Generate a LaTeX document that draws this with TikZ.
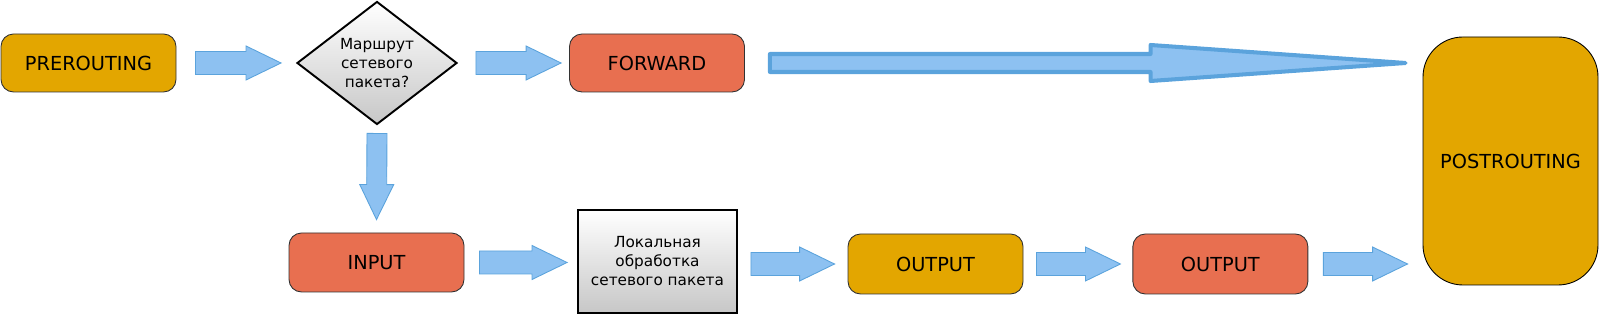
\documentclass[tikz,border=0pt]{standalone}
\usepackage{fontspec}
\setmainfont{DejaVu Sans}
\usetikzlibrary{shapes.geometric, positioning, calc}
\definecolor{hookorange}{RGB}{227, 166, 0}
\definecolor{hookred}{RGB}{232, 111, 80}
\definecolor{flowfill}{RGB}{141, 193, 241}
\definecolor{flowline}{RGB}{91, 163, 220}

% block arrow: [style]{from}{to}{half shaft}{half head}{head length}
\newcommand{\flowarrow}[6][flow]{%
  \coordinate (fa-s) at #2;
  \coordinate (fa-e) at #3;
  \coordinate (fa-h) at ($(fa-e)!#6!(fa-s)$);
  \path[#1] ($(fa-s)!#4!90:(fa-e)$) -- ($(fa-h)!#4!-90:(fa-s)$)
    -- ($(fa-h)!#5!-90:(fa-s)$) -- (fa-e) -- ($(fa-h)!#5!90:(fa-s)$)
    -- ($(fa-h)!#4!90:(fa-s)$) -- ($(fa-s)!#4!-90:(fa-e)$) -- cycle;}

\begin{document}
\begin{tikzpicture}[
    hook/.style={draw=black!80, line width=0.5pt, rounded corners=0.25cm,
                 minimum width=3.5cm, minimum height=1.16cm,
                 font=\fontsize{11}{13}\selectfont},
    orangehook/.style={hook, fill=hookorange},
    redhook/.style={hook, fill=hookred},
    decision/.style={diamond, draw=black, line width=1.1pt, aspect=1.3,
                     inner sep=0pt, minimum width=3.2cm, minimum height=2.46cm,
                     top color=white, bottom color=black!22, align=center,
                     font=\fontsize{8.7}{10.8}\selectfont},
    process/.style={draw=black, line width=1.1pt, minimum width=3.18cm,
                    minimum height=2.06cm, top color=white, bottom color=black!22,
                    align=center, font=\fontsize{8.7}{10.8}\selectfont},
    flow/.style={fill=flowfill, draw=flowline, line width=0.5pt},
    bigflow/.style={flow, line width=2.3pt, line join=round}
]
    \useasboundingbox (0,0) rectangle (32,6.3);

    \node[orangehook] (pre) at (1.77,5.04) {PREROUTING};
    \node[decision] (route) at (7.54,5.04) {Маршрут\\сетевого\\пакета?};
    \node[redhook] (fwd) at (13.14,5.04) {FORWARD};

    \node[redhook, minimum height=1.18cm] (input) at (7.53,1.05) {INPUT};
    \node[process] (local) at (13.15,1.07) {Локальная\\обработка\\сетевого пакета};
    \node[orangehook, minimum height=1.2cm] (out1) at (18.71,1.02) {OUTPUT};
    \node[redhook, minimum height=1.2cm, right=2.18cm of out1] (out2) {OUTPUT};

    \node[orangehook, draw=black, minimum height=4.96cm, rounded corners=0.8cm] (post)
        at (30.21,3.08) {POSTROUTING};

    % upper row
    \flowarrow{($(pre.east)+(0.38,0)$)}{($(route.west)+(-0.3,0)$)}{0.23cm}{0.34cm}{0.7cm}
    \flowarrow{($(route.east)+(0.36,0)$)}{($(fwd.west)+(-0.16,0)$)}{0.23cm}{0.34cm}{0.7cm}
    \flowarrow[bigflow]{($(fwd.east)+(0.5,0)$)}{($(fwd.east -| post.west)+(-0.34,0)$)}{0.18cm}{0.36cm}{5.1cm}

    % down to INPUT
    \flowarrow{($(route.south)+(0,-0.16)$)}{($(input.north)+(0,0.26)$)}{0.2cm}{0.34cm}{0.7cm}

    % lower row
    \flowarrow{($(input.east)+(0.3,0)$)}{($(local.west |- input.east)+(-0.2,0)$)}{0.23cm}{0.34cm}{0.7cm}
    \flowarrow{($(local.east |- out1.west)+(0.26,0)$)}{($(out1.west)+(-0.26,0)$)}{0.23cm}{0.34cm}{0.7cm}
    \flowarrow{($(out1.east)+(0.26,0)$)}{($(out2.west)+(-0.24,0)$)}{0.23cm}{0.34cm}{0.7cm}
    \flowarrow{($(out2.east)+(0.3,0)$)}{($(out2.east -| post.west)+(-0.3,0)$)}{0.23cm}{0.34cm}{0.7cm}
\end{tikzpicture}
\end{document}
